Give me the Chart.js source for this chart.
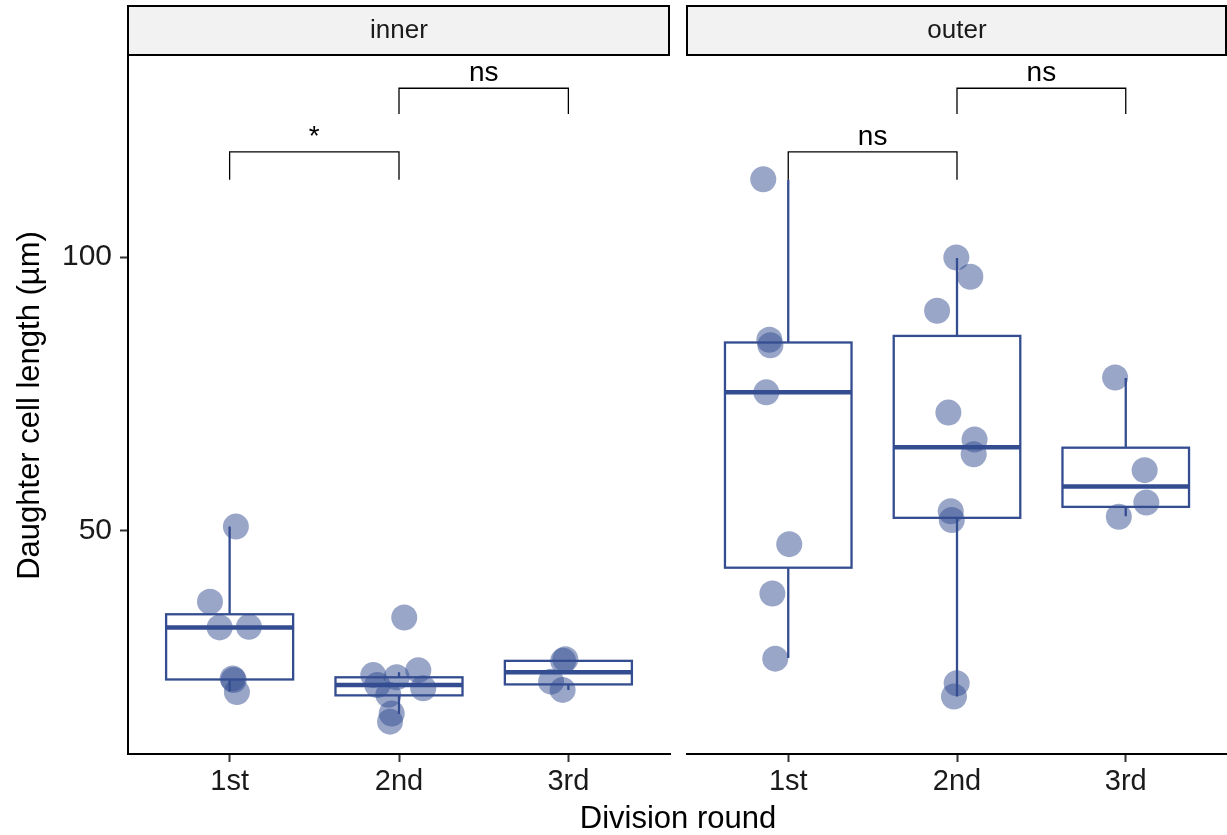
<!DOCTYPE html>
<html>
<head>
<meta charset="utf-8">
<script src="https://cdn.jsdelivr.net/npm/chart.js@4.4.1/dist/chart.umd.min.js"></script>
<style>
  body { margin: 0; background: #fff; width: 1227px; height: 835px; position: relative; overflow: hidden; }
  canvas { position: absolute; top: 0; }
  #xtitle { position: absolute; left: 0; width: 1356px; top: 803px; text-align: center;
            font: 31px "Liberation Sans", Arial, sans-serif; line-height: 30px; color: #000; }
</style>
</head>
<body>
<canvas id="innerChart" style="left:0" width="678" height="835"></canvas>
<canvas id="outerChart" style="left:680px" width="547" height="835"></canvas>
<div id="xtitle">Division round</div>
<script>
const rounds = ['1st', '2nd', '3rd'];
const yTicks = [50, 100];

// cell lengths per division round
const innerValues = [
  [50.8, 37.1, 32.4, 32.5, 23.1, 22.8, 20.6],
  [23.7, 21.9, 23.3, 24.6, 21.3, 20.1, 16.7, 15.2, 34.2],
  [26.6, 26.3, 22.5, 21.0]
];
const innerJitter = [
  [0.037, -0.116, -0.059, 0.114, 0.018, 0.024, 0.043],
  [-0.152, -0.128, -0.014, 0.114, 0.143, -0.063, -0.043, -0.053, 0.031],
  [-0.018, -0.031, -0.102, -0.034]
];
const outerValues = [
  [114.2, 84.9, 83.9, 75.3, 47.6, 38.6, 26.7],
  [99.9, 96.4, 90.2, 71.6, 66.7, 64.0, 53.6, 52.0, 22.2, 19.8],
  [78.0, 61.1, 55.2, 52.6]
];
const outerJitter = [
  [-0.148, -0.112, -0.106, -0.130, 0.006, -0.094, -0.077],
  [-0.004, 0.079, -0.118, -0.051, 0.104, 0.099, -0.037, -0.031, -0.002, -0.018],
  [-0.063, 0.112, 0.122, -0.041]
];

// box statistics
const innerLow = [20.7, 16.6, 21.0];
const innerQ1 = [22.9, 20.0, 22.0];
const innerMedian = [32.4, 21.9, 24.2];
const innerQ3 = [34.8, 23.3, 26.3];
const innerHigh = [50.8, 24.2, 26.5];
const outerLow = [26.8, 19.8, 52.7];
const outerQ1 = [43.3, 52.4, 54.4];
const outerMedian = [75.3, 65.3, 58.1];
const outerQ3 = [84.4, 85.6, 65.2];
const outerHigh = [114.1, 99.8, 77.9];

// significance brackets: [from, to] round index
const bracketPairs = [[1, 2], [2, 3]];
const bracketLine = [119.2, 130.8];
const bracketTip = [114.1, 126.1];
const innerSig = ['*', 'ns'];
const outerSig = ['ns', 'ns'];

const FONT = '"Liberation Sans", Arial, sans-serif';
const BOX_COLOR = '#344d91';
const POINT_COLOR = 'rgba(52,77,145,0.5)';

const boxPlugin = {
  id: 'boxes',
  beforeDatasetsDraw(chart) {
    const st = chart.options.plugins.boxes;
    const x = chart.scales.x, y = chart.scales.y;
    const ctx = chart.ctx;
    ctx.save();
    ctx.strokeStyle = BOX_COLOR;
    for (let i = 0; i < rounds.length; i++) {
      const cx = x.getPixelForValue(i + 1);
      const l = x.getPixelForValue(i + 1 - 0.375), r = x.getPixelForValue(i + 1 + 0.375);
      const q1 = y.getPixelForValue(st.q1[i]), q3 = y.getPixelForValue(st.q3[i]);
      ctx.lineWidth = 2.3;
      ctx.beginPath();
      ctx.moveTo(cx, y.getPixelForValue(st.high[i])); ctx.lineTo(cx, q3);
      ctx.moveTo(cx, q1); ctx.lineTo(cx, y.getPixelForValue(st.low[i]));
      ctx.stroke();
      ctx.strokeRect(l, q3, r - l, q1 - q3);
      ctx.lineWidth = 4.5;
      const m = y.getPixelForValue(st.median[i]);
      ctx.beginPath(); ctx.moveTo(l, m); ctx.lineTo(r, m); ctx.stroke();
    }
    ctx.restore();
  },
  afterDatasetsDraw(chart) {
    const st = chart.options.plugins.boxes;
    const x = chart.scales.x, y = chart.scales.y;
    const ctx = chart.ctx;
    ctx.save();
    ctx.strokeStyle = '#000';
    ctx.fillStyle = '#000';
    ctx.lineWidth = 1.3;
    ctx.font = '28px ' + FONT;
    ctx.textAlign = 'center';
    ctx.textBaseline = 'alphabetic';
    bracketPairs.forEach((p, k) => {
      const a = x.getPixelForValue(p[0]), b = x.getPixelForValue(p[1]);
      const top = y.getPixelForValue(bracketLine[k]), tip = y.getPixelForValue(bracketTip[k]);
      ctx.beginPath();
      ctx.moveTo(a, tip); ctx.lineTo(a, top); ctx.lineTo(b, top); ctx.lineTo(b, tip);
      ctx.stroke();
      ctx.fillText(st.sig[k], (a + b) / 2, top - 7);
    });
    // facet strip
    const ca = chart.chartArea;
    ctx.fillStyle = '#f2f2f2';
    ctx.fillRect(ca.left, 6, ca.right - ca.left, 49);
    ctx.lineWidth = 2;
    ctx.strokeRect(ca.left, 6, ca.right - ca.left - 1, 49);
    ctx.fillStyle = '#1a1a1a';
    ctx.font = '26px ' + FONT;
    ctx.textBaseline = 'middle';
    ctx.fillText(st.strip, (ca.left + ca.right) / 2, 31);
    ctx.restore();
  }
};

function makePanel(id, strip, values, jitter, stats, sig, showY) {
  const points = [];
  values.forEach((vals, i) => vals.forEach((v, j) => points.push({ x: i + 1 + jitter[i][j], y: v })));
  return new Chart(document.getElementById(id), {
    type: 'scatter',
    data: { datasets: [{ data: points, backgroundColor: POINT_COLOR, borderWidth: 0, pointRadius: 13 }] },
    options: {
      responsive: false,
      animation: false,
      events: [],
      layout: { autoPadding: false, padding: { left: showY ? 0 : 7, top: 57, right: showY ? 8 : 0, bottom: 0 } },
      plugins: {
        legend: { display: false },
        tooltip: { enabled: false },
        boxes: Object.assign({ strip: strip, sig: sig }, stats)
      },
      scales: {
        x: {
          type: 'linear', min: 0.4, max: 3.6,
          afterBuildTicks: s => { s.ticks = rounds.map((r, i) => ({ value: i + 1 })); },
          afterFit: s => { s.height = 81; },
          ticks: { autoSkip: false, padding: 3, color: '#1a1a1a', font: { size: 29, family: FONT },
                   callback: v => rounds[v - 1] },
          grid: { drawOnChartArea: false, drawTicks: true, tickLength: 8, tickColor: '#333', tickWidth: 2 },
          border: { display: true, color: '#000', width: 2 }
        },
        y: {
          display: showY,
          min: 9.3, max: 136.5,
          afterBuildTicks: s => { s.ticks = yTicks.map(v => ({ value: v })); },
          afterFit: s => { s.width = showY ? 128 : 0; },
          ticks: { padding: 8, color: '#1a1a1a', font: { size: 30, family: FONT } },
          grid: { drawOnChartArea: false, drawTicks: true, tickLength: 8, tickColor: '#333', tickWidth: 2 },
          border: { display: true, color: '#000', width: 2 },
          title: { display: true, text: 'Daughter cell length (µm)', color: '#000',
                   font: { size: 31, family: FONT }, padding: { top: 12, bottom: 0 } }
        }
      }
    },
    plugins: [boxPlugin]
  });
}

makePanel('innerChart', 'inner', innerValues, innerJitter,
  { low: innerLow, q1: innerQ1, median: innerMedian, q3: innerQ3, high: innerHigh }, innerSig, true);
makePanel('outerChart', 'outer', outerValues, outerJitter,
  { low: outerLow, q1: outerQ1, median: outerMedian, q3: outerQ3, high: outerHigh }, outerSig, false);
</script>
</body>
</html>
